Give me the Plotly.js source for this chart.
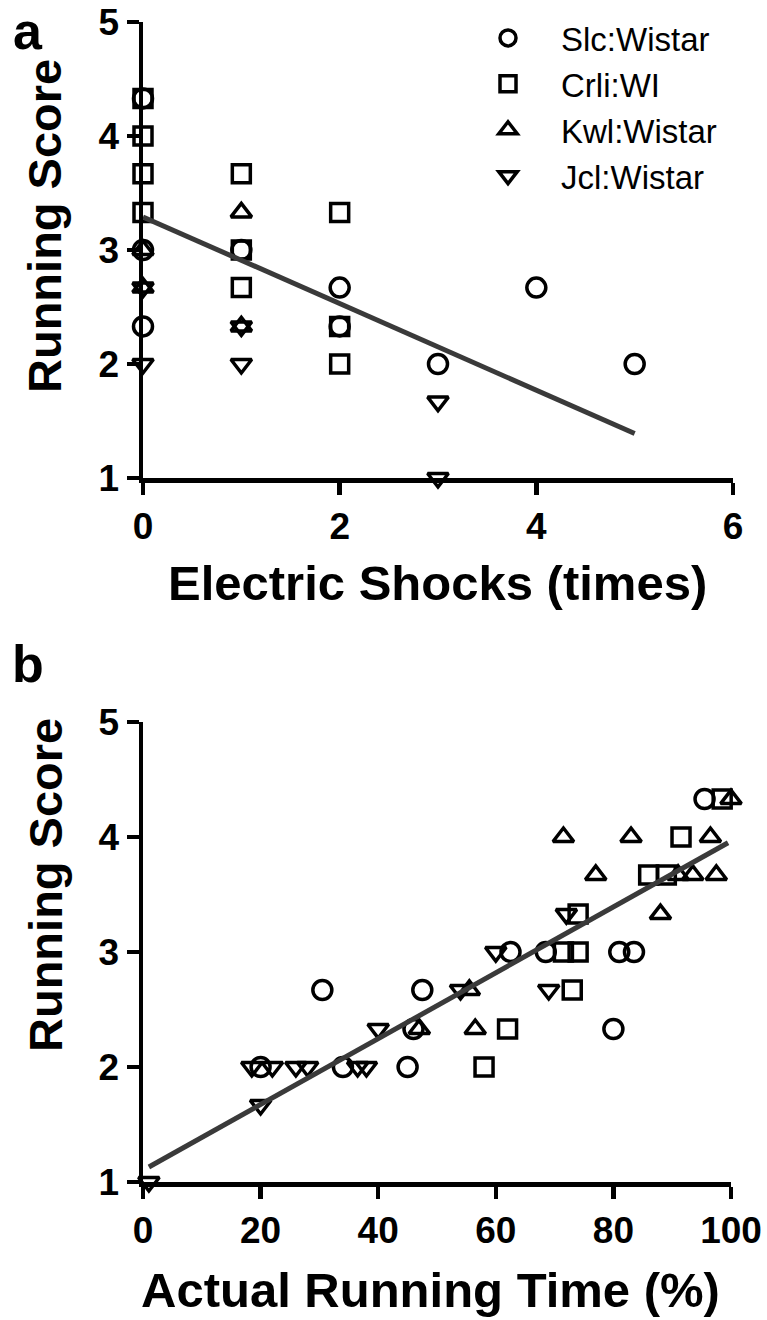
<!DOCTYPE html>
<html>
<head>
<meta charset="utf-8">
<script src="https://cdn.plot.ly/plotly-3.0.1.min.js"></script>
<style>
  html, body { margin: 0; padding: 0; background: #fff; }
  #chart { width: 767px; height: 1320px; }
</style>
</head>
<body>
<div id="chart"></div>
<script>
// strains
const strains = ['Slc:Wistar', 'Crli:WI', 'Kwl:Wistar', 'Jcl:Wistar'];

// panel a: electric shocks (times) vs running score
const slcShockX = [0, 0, 0, 1, 2, 2, 3, 4, 5];
const slcShockY = [4.33, 3, 2.33, 3, 2.67, 2.33, 2, 2.67, 2];
const crliShockX = [0, 0, 0, 0, 1, 1, 1, 2, 2, 2];
const crliShockY = [4.33, 4, 3.67, 3.33, 3.67, 3, 2.67, 3.33, 2.33, 2];
const kwlShockX = [0, 0, 1, 1];
const kwlShockY = [3, 2.67, 3.33, 2.33];
const jclShockX = [0, 0, 1, 1, 3, 3];
const jclShockY = [2.67, 2, 2.33, 2, 1.67, 1];
const shockFitX = [0, 5];
const shockFitY = [3.29, 1.39];

// panel b: actual running time (%) vs running score
const slcTimeX = [20, 30.5, 34, 45, 46, 47.5, 62.5, 68.5, 80, 81, 83.5, 95.5];
const slcTimeY = [2, 2.67, 2, 2, 2.33, 2.67, 3, 3, 2.33, 3, 3, 4.33];
const crliTimeX = [58, 62, 71.5, 74, 73, 74, 86, 89, 91.5, 98.5];
const crliTimeY = [2, 2.33, 3, 3, 2.67, 3.33, 3.67, 3.67, 4, 4.33];
const kwlTimeX = [47, 55.5, 56.5, 71.5, 77, 83, 88, 91, 93.5, 96.5, 97.5, 100];
const kwlTimeY = [2.33, 2.67, 2.33, 4, 3.67, 4, 3.33, 3.67, 3.67, 4, 3.67, 4.33];
const jclTimeX = [1, 18.5, 20, 22, 26, 28, 36.5, 38, 40, 54, 60, 69, 72];
const jclTimeY = [1, 2, 1.67, 2, 2, 2, 2, 2, 2.33, 2.67, 3, 2.67, 3.33];
const timeFitX = [1, 99.5];
const timeFitY = [1.13, 3.95];

const W = 767, H = 1320;
const px = x => x / W;
const py = y => 1 - y / H;

const symbols = ['circle-open', 'square-open', 'triangle-up-open', 'triangle-down-open'];
const sizes = [19, 18, 18, 18];
const FONT = 'Liberation Sans, Arial, sans-serif';

function pts(x, y, i, xa, ya, legend) {
  return {
    type: 'scatter', mode: 'markers', x: x, y: y,
    xaxis: xa, yaxis: ya, name: strains[i], showlegend: legend,
    cliponaxis: false,
    marker: { symbol: symbols[i], size: sizes[i], color: 'black', line: { color: 'black', width: 3.5 } }
  };
}

function fit(x, y, xa, ya) {
  return {
    type: 'scatter', mode: 'lines', x: x, y: y, xaxis: xa, yaxis: ya,
    showlegend: false, cliponaxis: false,
    line: { color: '#3a3a3a', width: 5 }
  };
}

const data = [
  pts(slcShockX, slcShockY, 0, 'x', 'y', true),
  pts(crliShockX, crliShockY, 1, 'x', 'y', true),
  pts(kwlShockX, kwlShockY, 2, 'x', 'y', true),
  pts(jclShockX, jclShockY, 3, 'x', 'y', true),
  fit(shockFitX, shockFitY, 'x', 'y'),
  pts(slcTimeX, slcTimeY, 0, 'x2', 'y2', false),
  pts(crliTimeX, crliTimeY, 1, 'x2', 'y2', false),
  pts(kwlTimeX, kwlTimeY, 2, 'x2', 'y2', false),
  pts(jclTimeX, jclTimeY, 3, 'x2', 'y2', false),
  fit(timeFitX, timeFitY, 'x2', 'y2')
];

const tickFont = { family: FONT, size: 37, color: 'black', weight: 'bold' };
const titleFont = { family: FONT, size: 49, color: 'black', weight: 'bold' };
const yTitleFont = { family: FONT, size: 47, color: 'black', weight: 'bold' };
const letterFont = { family: FONT, size: 52, color: 'black', weight: 'bold' };

function axis(extra) {
  return Object.assign({
    showline: true, linewidth: 4.5, linecolor: 'black',
    ticks: 'outside', ticklen: 12, tickwidth: 4.5, tickcolor: 'black',
    tickfont: tickFont, ticklabeloverflow: 'allow',
    showgrid: false, zeroline: false, fixedrange: true
  }, extra);
}

function label(text, x, y, font, angle, yanchor) {
  return {
    text: text, x: px(x), y: py(y), xref: 'paper', yref: 'paper',
    xanchor: 'center', yanchor: yanchor || 'middle', showarrow: false,
    textangle: angle || 0, font: font
  };
}

const layout = {
  width: W, height: H,
  margin: { l: 0, r: 0, t: 0, b: 0 },
  paper_bgcolor: 'white', plot_bgcolor: 'white',
  showlegend: true,
  legend: {
    x: px(455), y: py(10), xanchor: 'left', yanchor: 'top',
    font: { family: FONT, size: 33, color: 'black' },
    itemwidth: 96, bgcolor: 'rgba(0,0,0,0)', borderwidth: 0
  },
  xaxis: axis({ domain: [px(143), px(733)], range: [0, 6], tickvals: [0, 2, 4, 6], anchor: 'y' }),
  yaxis: axis({ domain: [py(478), py(22)], range: [1, 5.0001], tickvals: [1, 2, 3, 4, 5], anchor: 'x' }),
  xaxis2: axis({ domain: [px(143), px(731)], range: [0, 100], tickvals: [0, 20, 40, 60, 80, 100], anchor: 'y2' }),
  yaxis2: axis({ domain: [py(1182), py(722)], range: [1, 5.0001], tickvals: [1, 2, 3, 4, 5], anchor: 'x2' }),
  annotations: [
    label('a', 28, 0, letterFont, 0, 'top'),
    label('b', 28, 664, letterFont),
    label('Running Score', 45, 226, yTitleFont, -90),
    label('Electric Shocks (times)', 437, 583, titleFont),
    label('Running Score', 45, 885, yTitleFont, -90),
    label('Actual Running Time (%)', 430, 1290, titleFont)
  ]
};

Plotly.newPlot('chart', data, layout, { staticPlot: true });
</script>
</body>
</html>
